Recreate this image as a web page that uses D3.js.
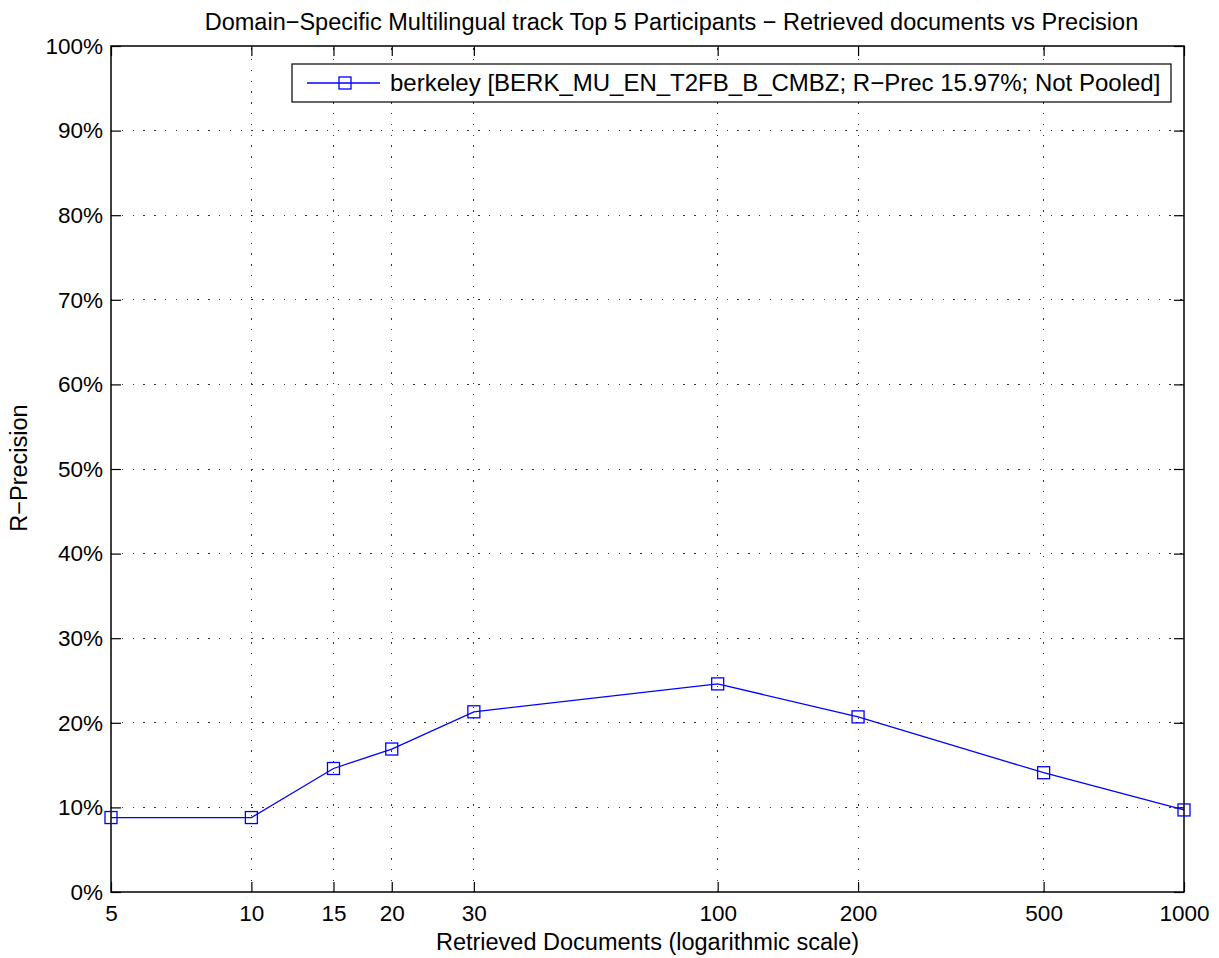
<!DOCTYPE html>
<html>
<head>
<meta charset="utf-8">
<script src="https://cdn.jsdelivr.net/npm/d3@7"></script>
<style>
  body { margin: 0; background: #fff; }
  svg text { font-family: "Liberation Sans", Arial, Helvetica, sans-serif; fill: #000; }
</style>
</head>
<body>
<svg id="chart" width="1219" height="958"></svg>
<script>
const docs = [5, 10, 15, 20, 30, 100, 200, 500, 1000];
const precision = [8.8, 8.8, 14.6, 16.9, 21.3, 24.6, 20.7, 14.1, 9.7];
const xTicks = [5, 10, 15, 20, 30, 100, 200, 500, 1000];
const yTicks = [0, 10, 20, 30, 40, 50, 60, 70, 80, 90, 100];
const seriesLabel = "berkeley [BERK_MU_EN_T2FB_B_CMBZ; R\u2212Prec 15.97%; Not Pooled]";
const titleText = "Domain\u2212Specific Multilingual track Top 5 Participants \u2212 Retrieved documents vs Precision";
const xLabel = "Retrieved Documents (logarithmic scale)";
const yLabel = "R\u2212Precision";

const svg = d3.select("#chart");
const L = 111, R = 1184, T = 46, B = 892;
const fs = 23.5;
const tfs = 22.5;
const x = d3.scaleLog().domain([5, 1000]).range([L, R]);
const y = d3.scaleLinear().domain([0, 100]).range([B, T]);

svg.append("rect").attr("width", 1219).attr("height", 958).attr("fill", "#fff");

// grid
const grid = svg.append("g").attr("stroke", "#000").attr("stroke-width", 1)
  .attr("stroke-dasharray", "1.3,9.5").attr("opacity", 0.8);
xTicks.slice(1, -1).forEach(v => {
  grid.append("line").attr("x1", x(v)).attr("x2", x(v)).attr("y1", B).attr("y2", T)
    .attr("shape-rendering", "crispEdges");
});
yTicks.slice(1, -1).forEach(v => {
  grid.append("line").attr("x1", L).attr("x2", R).attr("y1", y(v)).attr("y2", y(v))
    .attr("shape-rendering", "crispEdges");
});

// axes (ticks inside, mirrored)
const tl = 10;
const xAxisB = d3.axisBottom(x).tickValues(xTicks).tickFormat(d3.format("d")).tickSize(-tl).tickPadding(13);
const xAxisT = d3.axisTop(x).tickValues(xTicks).tickFormat("").tickSize(-tl);
const yAxisL = d3.axisLeft(y).tickValues(yTicks).tickFormat(d => d + "%").tickSize(-tl).tickPadding(8);
const yAxisR = d3.axisRight(y).tickValues(yTicks).tickFormat("").tickSize(-tl);

function style(g) {
  g.select(".domain").remove();
  g.selectAll(".tick line").attr("stroke", "#000").attr("stroke-width", 1.2);
  g.selectAll("text").attr("font-size", tfs).attr("font-family", "Liberation Sans, Arial, sans-serif");
}
svg.append("g").attr("transform", `translate(0,${B})`).call(xAxisB).call(style);
svg.append("g").attr("transform", `translate(0,${T})`).call(xAxisT).call(style);
svg.append("g").attr("transform", `translate(${L},0)`).call(yAxisL).call(style);
svg.append("g").attr("transform", `translate(${R},0)`).call(yAxisR).call(style);

svg.append("rect").attr("x", L).attr("y", T).attr("width", R - L).attr("height", B - T)
  .attr("fill", "none").attr("stroke", "#000").attr("stroke-width", 1.5);

// series
const data = docs.map((d, i) => ({ d, p: precision[i] }));
svg.append("path").datum(data)
  .attr("fill", "none").attr("stroke", "#0000ff").attr("stroke-width", 1.3)
  .attr("d", d3.line().x(e => x(e.d)).y(e => y(e.p)));
svg.selectAll("rect.mk").data(data).enter().append("rect").attr("class", "mk")
  .attr("x", e => x(e.d) - 6).attr("y", e => y(e.p) - 6)
  .attr("width", 12).attr("height", 12)
  .attr("fill", "none").attr("stroke", "#0000ff").attr("stroke-width", 1.3);

// legend
const lg = svg.append("g");
lg.append("rect").attr("x", 292).attr("y", 64).attr("width", 879).attr("height", 38)
  .attr("fill", "#fff").attr("stroke", "#000").attr("stroke-width", 1.2);
lg.append("line").attr("x1", 307).attr("x2", 380).attr("y1", 83).attr("y2", 83)
  .attr("stroke", "#0000ff").attr("stroke-width", 1.3);
lg.append("rect").attr("x", 339).attr("y", 77).attr("width", 12).attr("height", 12)
  .attr("fill", "none").attr("stroke", "#0000ff").attr("stroke-width", 1.3);
lg.append("text").attr("x", 390).attr("y", 91).attr("font-size", 24).text(seriesLabel);

// titles
svg.append("text").attr("x", 671.5).attr("y", 30).attr("text-anchor", "middle")
  .attr("font-size", fs).text(titleText);
svg.append("text").attr("x", (L + R) / 2).attr("y", 950).attr("text-anchor", "middle")
  .attr("font-size", fs).text(xLabel);
svg.append("text").attr("transform", `translate(27,468) rotate(-90)`).attr("text-anchor", "middle")
  .attr("font-size", fs).text(yLabel);
</script>
</body>
</html>
